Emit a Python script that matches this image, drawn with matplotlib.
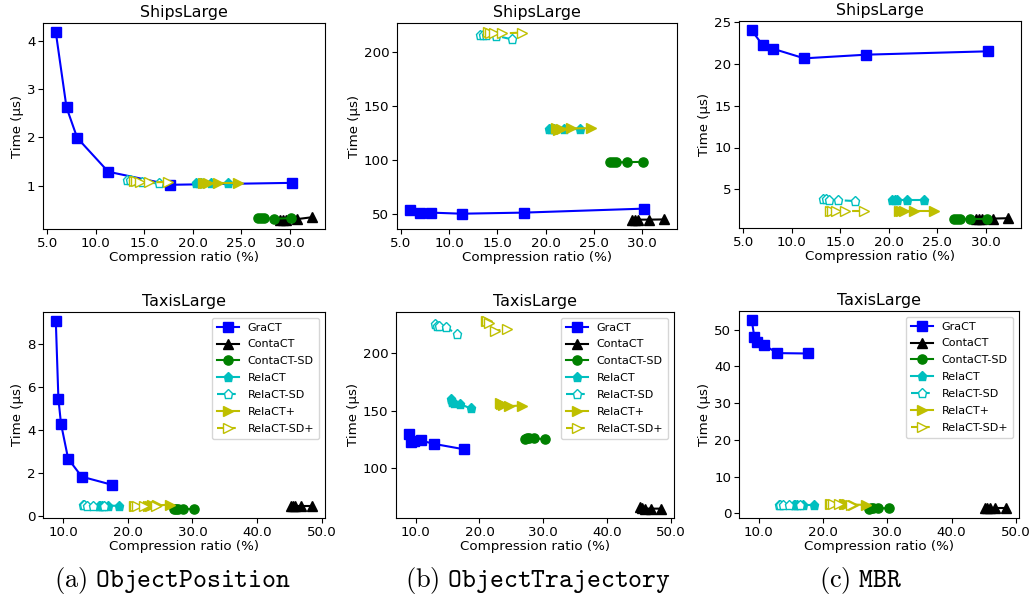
import matplotlib
matplotlib.use("Agg")
import matplotlib.pyplot as plt
from matplotlib.ticker import FormatStrFormatter, MultipleLocator

plt.rcParams['mathtext.fontset'] = 'cm'

methods = ["GraCT", "ContaCT", "ContaCT-SD", "RelaCT", "RelaCT-SD", "RelaCT+", "RelaCT-SD+"]

# Compression ratio (%) per method, per dataset
ships_x = {
    "GraCT": [5.9, 7.0, 8.1, 11.3, 17.7, 30.2],
    "ContaCT": [29.0, 29.3, 29.6, 30.7, 32.3],
    "ContaCT-SD": [26.7, 27.0, 27.3, 28.4, 30.1],
    "RelaCT": [20.3, 20.6, 20.9, 21.9, 23.6],
    "RelaCT-SD": [13.2, 13.5, 13.8, 14.8, 16.5],
    "RelaCT+": [21.1, 21.3, 21.6, 22.6, 24.7],
    "RelaCT-SD+": [14.0, 14.2, 14.6, 15.5, 17.5],
}
taxis_x = {
    "GraCT": [8.9, 9.3, 9.7, 10.8, 12.9, 17.6],
    "ContaCT": [45.2, 45.5, 45.9, 46.8, 48.5],
    "ContaCT-SD": [27.1, 27.4, 27.8, 28.6, 30.2],
    "RelaCT": [15.5, 15.7, 16.0, 16.9, 18.6],
    "RelaCT-SD": [13.1, 13.3, 13.7, 14.7, 16.4],
    "RelaCT+": [23.2, 23.4, 23.7, 24.6, 26.6],
    "RelaCT-SD+": [21.0, 21.2, 21.5, 22.5, 24.3],
}

# Time (us) per panel
ships_position = {
    "GraCT": [4.17, 2.62, 1.99, 1.29, 1.02, 1.06],
    "ContaCT": [0.30, 0.30, 0.30, 0.31, 0.35],
    "ContaCT-SD": [0.33, 0.33, 0.33, 0.32, 0.33],
    "RelaCT": [1.06, 1.06, 1.06, 1.05, 1.05],
    "RelaCT-SD": [1.12, 1.11, 1.10, 1.07, 1.05],
    "RelaCT+": [1.06, 1.06, 1.06, 1.06, 1.06],
    "RelaCT-SD+": [1.10, 1.09, 1.08, 1.07, 1.08],
}
ships_trajectory = {
    "GraCT": [53.4, 51.0, 51.0, 50.0, 51.0, 54.7],
    "ContaCT": [44.5, 44.5, 44.5, 44.5, 44.7],
    "ContaCT-SD": [97.5, 97.5, 97.5, 97.8, 98.0],
    "RelaCT": [128.6, 128.6, 128.4, 128.4, 128.4],
    "RelaCT-SD": [216.0, 216.0, 215.8, 215.0, 211.5],
    "RelaCT+": [129.0, 127.5, 128.8, 129.0, 129.2],
    "RelaCT-SD+": [218.0, 217.8, 217.2, 217.0, 217.8],
}
ships_mbr = {
    "GraCT": [24.0, 22.25, 21.8, 20.66, 21.1, 21.5],
    "ContaCT": [1.5, 1.5, 1.5, 1.5, 1.55],
    "ContaCT-SD": [1.5, 1.5, 1.5, 1.5, 1.5],
    "RelaCT": [3.7, 3.7, 3.7, 3.7, 3.7],
    "RelaCT-SD": [3.8, 3.8, 3.75, 3.7, 3.6],
    "RelaCT+": [2.4, 2.4, 2.4, 2.4, 2.4],
    "RelaCT-SD+": [2.4, 2.4, 2.4, 2.4, 2.4],
}
taxis_position = {
    "GraCT": [9.05, 5.44, 4.28, 2.65, 1.81, 1.43],
    "ContaCT": [0.42, 0.42, 0.42, 0.42, 0.42],
    "ContaCT-SD": [0.32, 0.32, 0.32, 0.32, 0.32],
    "RelaCT": [0.46, 0.46, 0.46, 0.46, 0.45],
    "RelaCT-SD": [0.47, 0.47, 0.46, 0.46, 0.45],
    "RelaCT+": [0.46, 0.46, 0.47, 0.47, 0.51],
    "RelaCT-SD+": [0.46, 0.46, 0.46, 0.46, 0.46],
}
taxis_trajectory = {
    "GraCT": [130.0, 122.7, 123.5, 124.0, 121.0, 116.3],
    "ContaCT": [65.5, 65.0, 64.5, 64.5, 64.5],
    "ContaCT-SD": [125.0, 125.8, 126.0, 125.8, 125.2],
    "RelaCT": [160.0, 158.0, 157.0, 156.0, 152.0],
    "RelaCT-SD": [225.5, 224.0, 224.0, 223.0, 217.0],
    "RelaCT+": [157.0, 156.0, 155.0, 154.0, 154.5],
    "RelaCT-SD+": [228.0, 228.0, 227.0, 220.0, 221.0],
}
taxis_mbr = {
    "GraCT": [52.5, 48.1, 46.5, 45.8, 43.6, 43.5],
    "ContaCT": [1.4, 1.4, 1.4, 1.4, 1.4],
    "ContaCT-SD": [1.3, 1.4, 1.4, 1.4, 1.4],
    "RelaCT": [2.4, 2.4, 2.4, 2.4, 2.4],
    "RelaCT-SD": [2.4, 2.4, 2.4, 2.4, 2.4],
    "RelaCT+": [2.5, 2.5, 2.5, 2.4, 2.3],
    "RelaCT-SD+": [2.6, 2.6, 2.6, 2.5, 2.4],
}

titles = ["ShipsLarge", "TaxisLarge"]
captions = [r"$\mathrm{(a)}\ \mathtt{ObjectPosition}$",
            r"$\mathrm{(b)}\ \mathtt{ObjectTrajectory}$",
            r"$\mathrm{(c)}\ \mathtt{MBR}$"]
ytick_steps = [[1, 50, 5], [2, 50, 10]]

styles = {
    "GraCT": dict(color='b', marker='s', ls='-'),
    "ContaCT": dict(color='k', marker='^', ls='-'),
    "ContaCT-SD": dict(color='g', marker='o', ls='-'),
    "RelaCT": dict(color='c', marker='p', ls='-'),
    "RelaCT-SD": dict(color='c', marker='p', ls='--', mfc='w'),
    "RelaCT+": dict(color='y', marker='>', ls='-'),
    "RelaCT-SD+": dict(color='y', marker='>', ls='--', mfc='w'),
}

fig = plt.figure(figsize=(10.35, 6.03), dpi=100)
W, H = 1035, 603
boxes = [
    [(43, 23, 325, 229), (397, 23, 677, 229), (739, 21, 1021, 228)],
    [(43, 312, 325, 518), (396, 312, 674, 518), (739, 311, 1019, 518)],
]
data = [[ships_position, ships_trajectory, ships_mbr],
        [taxis_position, taxis_trajectory, taxis_mbr]]
xs = [ships_x, taxis_x]

for r in range(2):
    for c in range(3):
        l, t, rr, b = boxes[r][c]
        ax = fig.add_axes([l / W, (H - b) / H, (rr - l) / W, (b - t) / H])
        for m in methods:
            ax.plot(xs[r][m], data[r][c][m], label=m, lw=1.5, ms=6.6,
                    **styles[m])
        ax.set_title(titles[r], fontsize=11.4, pad=4)
        ax.set_xlabel("Compression ratio (%)", fontsize=9.6, labelpad=1)
        ax.set_ylabel("Time (\u00b5s)", fontsize=9.6, labelpad=2)
        ax.tick_params(labelsize=9.6, length=3.5, pad=2)
        ax.xaxis.set_major_formatter(FormatStrFormatter('%.1f'))
        ax.yaxis.set_major_locator(MultipleLocator(ytick_steps[r][c]))
        if r == 1:
            ax.legend(loc='upper right', fontsize=8.0, labelspacing=0.62,
                      handlelength=2.0, borderpad=0.45)

cap_x = [173, 538, 861]
for c in range(3):
    fig.text(cap_x[c] / W, 1 - 580 / H, captions[c], fontsize=19,
             ha='center', va='center')

fig.savefig("out.png", dpi=100)
